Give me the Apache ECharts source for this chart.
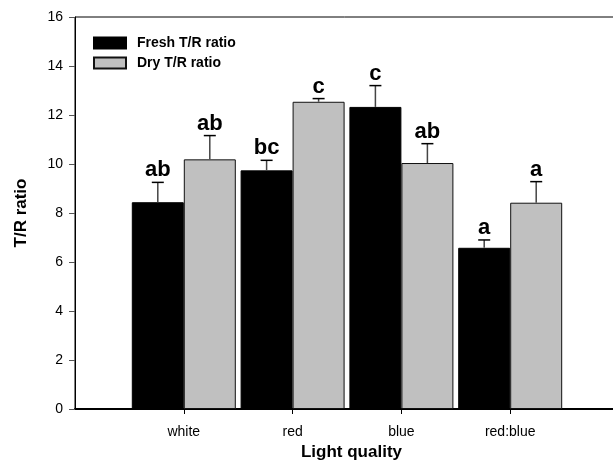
<!DOCTYPE html>
<html>
<head>
<meta charset="utf-8">
<script src="https://cdn.jsdelivr.net/npm/echarts@6/dist/echarts.min.js"></script>
<style>
  html, body { margin: 0; padding: 0; background: #fff; }
  #main { width: 613px; height: 464px; }
</style>
</head>
<body>
<div id="main"></div>
<script>
// empty slots at both ends so the axis runs 0..5 like the original
const categories = ['', 'white', 'red', 'blue', 'red:blue', ''];
const freshMean = [null, 8.44, 9.74, 12.33, 6.58, null];
const freshErr = [null, 0.81, 0.41, 0.87, 0.32, null];
const freshLetters = ['', 'ab', 'bc', 'c', 'a', ''];
const dryMean = [null, 10.19, 12.54, 10.04, 8.42, null];
const dryErr = [null, 0.97, 0.13, 0.79, 0.86, null];
const dryLetters = ['', 'ab', 'c', 'ab', 'a', ''];
const yTicks = [0, 2, 4, 6, 8, 10, 12, 14, 16];

const FONT = 'Liberation Sans, Arial, sans-serif';
const BAR_W = 52;

var myChart = echarts.init(document.getElementById('main'));

function errData(means, errs) {
  const out = [];
  means.forEach((m, i) => {
    if (m != null) out.push([i, m, errs[i]]);
  });
  return out;
}

function errSeries(means, errs, letters, dx) {
  const idx = [];
  means.forEach((m, i) => { if (m != null) idx.push(i); });
  return {
    type: 'custom',
    silent: true,
    z: 5,
    encode: { x: 0, y: 1 },
    data: errData(means, errs),
    renderItem: function (params, api) {
      const i = api.value(0);
      const m = api.value(1);
      const e = api.value(2);
      const base = api.coord([i, m]);
      const top = api.coord([i, m + e]);
      const x = base[0] + dx;
      return {
        type: 'group',
        children: [
          { type: 'line', shape: { x1: x, y1: base[1], x2: x, y2: top[1] },
            style: { stroke: '#444', lineWidth: 1.5 } },
          { type: 'line', shape: { x1: x - 6, y1: top[1], x2: x + 6, y2: top[1] },
            style: { stroke: '#000', lineWidth: 1.5 } },
          { type: 'text',
            style: { text: letters[idx[params.dataIndex]], x: x, y: top[1] - 1,
              align: 'center', verticalAlign: 'bottom',
              fontFamily: FONT, fontWeight: 'bold', fontSize: 22, fill: '#000' } }
        ]
      };
    }
  };
}

myChart.setOption({
  animation: false,
  textStyle: { fontFamily: FONT },
  legend: {
    left: 93,
    top: 36,
    padding: 0,
    orient: 'vertical',
    itemWidth: 32,
    itemHeight: 11,
    itemGap: 6,
    icon: 'rect',
    data: ['Fresh T/R ratio', 'Dry T/R ratio'],
    textStyle: { fontSize: 14, fontWeight: 'bold', color: '#000', padding: [0, 0, 0, 6] }
  },
  grid: {
    left: 75, right: -6, top: 17, bottom: 55,
    outerBoundsMode: 'none',
    show: true, borderColor: '#000', borderWidth: 1
  },
  xAxis: {
    type: 'category',
    data: categories,
    boundaryGap: false,
    name: 'Light quality',
    nameLocation: 'middle',
    nameGap: 35,
    nameTextStyle: { fontSize: 17, fontWeight: 'bold', color: '#000', padding: [0, 0, 0, 9] },
    axisLine: { lineStyle: { color: '#000', width: 2 } },
    axisTick: {
      length: 5,
      interval: (i) => i >= 1 && i <= 4,
      lineStyle: { color: '#000' }
    },
    axisLabel: { fontSize: 14, color: '#000', margin: 16, interval: 0 },
    splitLine: { show: false }
  },
  yAxis: {
    type: 'value',
    min: yTicks[0],
    max: yTicks[yTicks.length - 1],
    interval: 2,
    name: 'T/R ratio',
    nameLocation: 'middle',
    nameGap: 45,
    nameTextStyle: { fontSize: 17, fontWeight: 'bold', color: '#000' },
    axisLine: { show: true, lineStyle: { color: '#000', width: 1 } },
    axisTick: { show: true, length: 6, lineStyle: { color: '#555' } },
    axisLabel: { fontSize: 14, color: '#000', margin: 12 },
    splitLine: { show: false }
  },
  series: [
    {
      name: 'Fresh T/R ratio',
      type: 'bar',
      data: freshMean,
      barWidth: BAR_W,
      barGap: '0%',
      itemStyle: { color: '#000', borderColor: '#000', borderWidth: 1 }
    },
    {
      name: 'Dry T/R ratio',
      type: 'bar',
      data: dryMean,
      barWidth: BAR_W,
      barGap: '0%',
      itemStyle: { color: '#c0c0c0', borderColor: '#111', borderWidth: 1 }
    },
    errSeries(freshMean, freshErr, freshLetters, -BAR_W / 2),
    errSeries(dryMean, dryErr, dryLetters, BAR_W / 2)
  ]
});
</script>
</body>
</html>
